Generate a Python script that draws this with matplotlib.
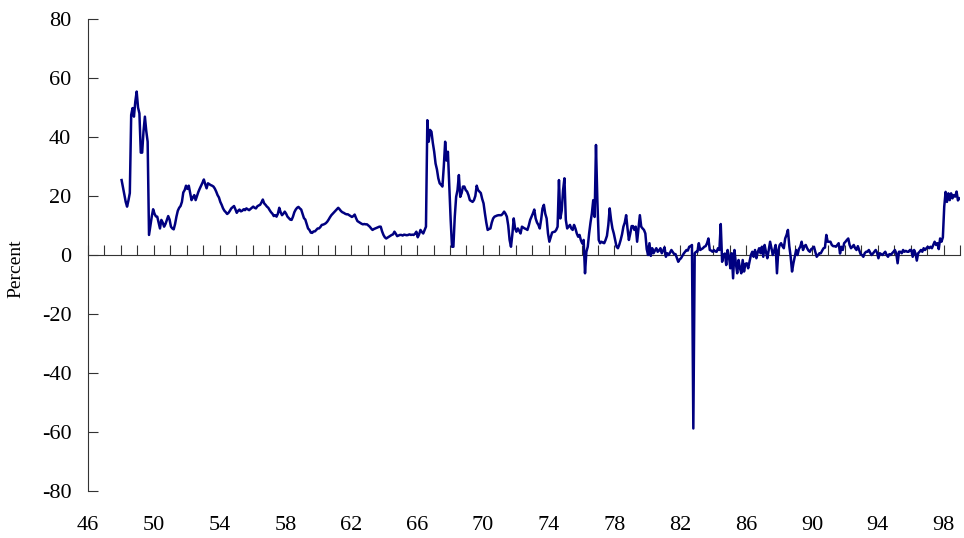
import numpy as np
import matplotlib.pyplot as plt

# monthly values in percent, Jan 1948 - Dec 1998
rate_1948_49 = [25.4, 23, 20.5, 18, 16.4, 18.5, 21, 47.5, 49.8, 46.9, 52, 55.4,
                50, 48, 34.7, 34.7, 42, 46.9, 42, 38.4, 6.8, 10, 13, 15.5]

rate_1950s = [14, 13.1, 13, 11, 9, 11.9, 11, 9.6, 10.5, 11.9, 13.2, 12,
              9.6, 9, 8.7, 10.5, 13, 15, 16, 16.6, 18, 21.2, 22, 23.5,
              22.4, 23.5, 21, 18.6, 19.5, 20.3, 18.6, 20, 21.4, 22.5, 23.5, 24.5,
              25.6, 24, 22.6, 24.3, 24, 23.7, 23.5, 23.2, 22.5, 21.5, 20.3, 19.5,
              18, 17, 15.8, 15, 14.5, 13.9, 14.3, 15, 15.8, 16.2, 16.6, 15.5,
              14.3, 15, 15.4, 14.8, 15, 15.5, 15.2, 15.8, 15.5, 15.2, 15.6, 16,
              16.4, 16, 15.8, 16.5, 16.8, 17, 17.8, 18.8, 17.5, 17, 16.4, 16,
              15.2, 14.5, 14, 13.2, 13.5, 13, 14, 16, 14.5, 13.5, 14, 14.7,
              14, 13, 12.5, 12, 11.9, 13, 14.5, 15.4, 16, 16.3, 15.8, 15.4,
              14, 12.5, 12, 10.5, 9, 8.5, 7.6, 7.5, 8, 8, 8.5, 9]

rate_1960s = [9, 9.5, 10.2, 10.3, 10.5, 10.8, 11.3, 12, 12.8, 13.5, 14, 14.5,
              15, 15.5, 16, 15.5, 14.9, 14.5, 14.3, 14, 13.8, 13.8, 13.5, 13.2,
              12.9, 13.2, 13.7, 12.5, 11.5, 11.2, 10.9, 10.6, 10.4, 10.5, 10.4, 10.4,
              10, 9.6, 9, 8.5, 8.8, 9, 9.2, 9.4, 9.6, 9.6, 8, 6.8,
              6, 5.6, 5.9, 6.2, 6.5, 6.8, 7, 7.9, 7.2, 6.4, 6.6, 6.8,
              6.8, 6.6, 6.9, 6.8, 6.7, 6.8, 7, 6.8, 6.9, 6.8, 7.2, 7.9,
              6, 7, 8.5, 7.8, 7.3, 8.5, 9.6, 45.7, 38.4, 42.4, 41.8, 38,
              35, 31, 29, 26, 24.3, 23.8, 23.2, 30, 38.4, 32, 35, 23.2,
              12, 2.8, 2.8, 12.9, 19.7, 22, 27.1, 19.7, 21, 23.2, 23.2, 22,
              21.5, 20.3, 18.6, 18.3, 18, 18.6, 20, 23.5, 22, 21.5, 21, 19]

rate_1970s = [17.5, 14.1, 11, 8.5, 8.8, 9, 11, 12.4, 13, 13.2, 13.4, 13.5,
              13.5, 13.5, 14, 14.7, 14, 13, 10, 5.1, 2.8, 7, 12.4, 9,
              7.9, 9, 8.2, 7.3, 9.6, 9.3, 9, 8.8, 8.5, 10, 11.9, 13,
              14.1, 15.4, 12.4, 11, 10.2, 9, 12, 15.8, 17, 14, 12.4, 7.3,
              4.5, 6, 7.6, 7.8, 7.9, 8.5, 9.6, 25.4, 12.4, 15, 22, 26,
              11.9, 9, 9.6, 10.2, 9, 8.5, 10.2, 9, 7.3, 6.2, 6.8, 5,
              3.9, 5.1, -6.2, 1.1, 2.8, 7.3, 11, 14.1, 18.6, 12.9, 37.3, 18.6,
              5.1, 4, 4.5, 4.2, 4, 5.1, 6.5, 10.2, 15.8, 11.9, 9, 7.3,
              5, 2.8, 2.3, 3.5, 5.1, 7, 9.6, 11, 13.5, 9, 5.1, 7.3,
              9.8, 9.8, 8.5, 9.6, 4.5, 9, 13.5, 9.6, 9, 8.5, 7.3, 2]

rate_1980s = [0, 4, -0.3, 2.3, 0.6, 1.5, 2.3, 1.1, 1.5, 2.3, 0.6, 1.5,
              2.6, -0.6, 0.6, 0, 0.8, 1.7, 1, 0.3, 0.3, -1, -2.3, -1.5,
              -1.1, -0.3, 0.5, 1.1, 1.7, 1.5, 2.8, 3, 3.4, -58.8, 0.6, 1.1,
              1.1, 4, 1.7, 2, 2.3, 2.8, 3, 4, 5.6, 1.7, 1.5, 1.1,
              1.7, 1.2, 1.1, 2.3, 1.7, 10.5, -2.3, 0, 0.5, -3.4, 1.7, -0.6,
              -4.5, 0.6, -7.9, 1.7, -2.8, -6.2, -1.7, -4.5, -6.2, -1.7, -5.6, -3,
              -2.8, -4.5, -2.3, 0, 1.1, -0.6, 1.7, -1.1, 1, 2.3, 0.6, 2.8,
              -0.6, 3.4, 1, -1.1, 1.7, 4.5, 2.3, 0, 1.5, 3.4, -6.2, 1.7,
              3.4, 4, 3, 2.3, 5.6, 6.8, 8.5, 3, -0.6, -5.6, -2.8, -0.6,
              1.7, 0, 2, 2.8, 4.5, 1.7, 3, 3.4, 2.3, 1.5, 1.1, 2]

rate_1990s = [2.3, 2.8, 1, -0.6, 0, 0.6, 0.6, 1.5, 2.3, 2.5, 6.8, 4.5,
              4.5, 4.5, 3.4, 3, 3, 2.8, 3.4, 4, 0.5, 2.8, 1.7, 4,
              4.5, 5.1, 5.6, 3.4, 2.3, 2.8, 3.4, 2.3, 1.7, 3, 1.7, 0.3,
              0, -0.6, 0.6, 1.1, 1.1, 1.7, 0.8, 0, 0.5, 1.1, 1.7, 0.8,
              -1.1, 0.6, 0.3, 0, 0.6, 1.1, 0, -0.6, 0.3, 0, 0.6, 1.1,
              1.7, 0.6, -2.8, 1.1, 1.1, 0.6, 1.7, 1.1, 1.4, 1.1, 1.1, 1.7,
              1.7, -0.6, 1.7, 0.6, -1.9, 0.6, 1.1, 1.7, 1.1, 2.3, 1.7, 2.3,
              2.8, 2.3, 2.8, 2.3, 3.4, 4.5, 3.4, 4, 2, 5.6, 4.5, 6,
              16.4, 21.4, 18, 20.9, 18.6, 20.9, 19.2, 20.3, 19.8, 21.5, 18.5, 19.2]

rate = np.array(rate_1948_49 + rate_1950s + rate_1960s + rate_1970s + rate_1980s + rate_1990s)
# each month sits in the middle of its slot on the year axis
months = 48 + (np.arange(len(rate)) + 0.5) / 12

year_ticks = np.arange(46, 100)
label_years = np.arange(46, 99, 4)
y_ticks = np.arange(-80, 81, 20)

plt.rcParams['font.family'] = ['Liberation Serif', 'DejaVu Serif']

fig = plt.figure(figsize=(9.64, 5.38), dpi=100)
ax = fig.add_axes([88 / 964, 47 / 538, 872 / 964, 472 / 538])

ax.plot(months, rate, color='#000080', lw=1.8, zorder=3)

ax.set_xlim(46, 99)
ax.set_ylim(-80, 80)
ax.spines['top'].set_visible(False)
ax.spines['right'].set_visible(False)
ax.spines['bottom'].set_position(('data', 0))
ax.spines['left'].set_color('#333333')
ax.spines['bottom'].set_color('#333333')

# year ticks on the zero line, no labels there
ax.set_xticks(year_ticks)
ax.tick_params(axis='x', direction='in', length=7, color='#333333', labelbottom=False)

ax.set_yticks(y_ticks)
ax.set_yticklabels([str(v) for v in y_ticks])
ax.tick_params(axis='y', direction='in', length=7, pad=12, labelsize=16, color='#333333')

# year labels sit at the bottom of the plot
sec = ax.secondary_xaxis('bottom')
for sp in sec.spines.values():
    sp.set_visible(False)
sec.set_xticks(label_years)
sec.set_xticklabels([str(v) for v in label_years])
sec.tick_params(length=0, pad=18, labelsize=16)

ax.set_ylabel('Percent', fontsize=14)
ax.yaxis.set_label_coords(-0.073, 0.47)

fig.savefig('out.png', dpi=100)
